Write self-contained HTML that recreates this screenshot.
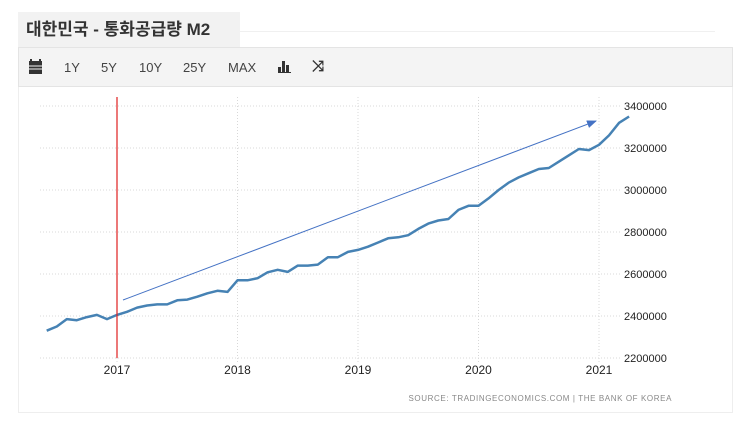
<!DOCTYPE html>
<html><head><meta charset="utf-8"><style>
body{margin:0;width:743px;height:425px;background:#fff;position:relative;overflow:hidden;font-family:"Liberation Sans","Noto Sans CJK KR",sans-serif}
#title{position:absolute;left:18px;top:12px;width:222px;height:35px;background:#f2f2f2;font-weight:bold;font-size:17px;color:#333;line-height:35px;padding-left:8px;box-sizing:border-box}
#topline{position:absolute;left:240px;top:31px;width:475px;height:1px;background:#f0f0f0}
#toolbar{position:absolute;left:18px;top:47px;width:715px;height:40px;background:#f4f4f4;border:1px solid #e4e4e4;box-sizing:border-box}
.tb{position:absolute;top:12px;font-size:13px;color:#444}
#panel{position:absolute;left:18px;top:87px;width:715px;height:326px;border:1px solid #eee;border-top:none;box-sizing:border-box}
svg{position:absolute;left:0;top:0}
</style></head><body>
<div id="title">대한민국 - 통화공급량 M2</div>
<div id="topline"></div>
<div id="toolbar">
<span class="tb" style="left:10px;top:11px"><svg width="13" height="15" style="position:static"><rect x="0" y="2" width="13" height="13" fill="#333"/><rect x="1" y="0" width="2" height="3" fill="#333"/><rect x="10" y="0" width="2" height="3" fill="#333"/><line x1="0" y1="7" x2="13" y2="7" stroke="#f4f4f4"/><line x1="0" y1="10" x2="13" y2="10" stroke="#f4f4f4"/></svg></span>
<span class="tb" style="left:45px">1Y</span>
<span class="tb" style="left:82px">5Y</span>
<span class="tb" style="left:120px">10Y</span>
<span class="tb" style="left:164px">25Y</span>
<span class="tb" style="left:209px">MAX</span>
<span class="tb" style="left:259px;top:13px"><svg width="13" height="12" style="position:static"><rect x="0" y="6" width="3" height="6" fill="#333"/><rect x="4" y="0" width="3" height="12" fill="#333"/><rect x="8" y="4" width="3" height="8" fill="#333"/><rect x="0" y="11" width="13" height="1" fill="#333"/></svg></span>
<span class="tb" style="left:293px;top:10px;font-weight:bold;font-size:15px;color:#333">⤨</span>
</div>
<div id="panel"></div>
<svg id="chart" width="743" height="425"></svg>
<script>
const years=[2017,2018,2019,2020,2021];
const yTicks=[2200000,2400000,2600000,2800000,3000000,3200000,3400000];
const startYear=2016,startMonth=6;
const values=[2330000,2350000,2385000,2380000,2395000,2405000,2385000,
2405000,2420000,2440000,2450000,2455000,2455000,2475000,2478000,2492000,2508000,2520000,2515000,
2570000,2570000,2580000,2608000,2620000,2610000,2640000,2640000,2645000,2680000,2680000,2705000,
2715000,2730000,2750000,2770000,2775000,2785000,2815000,2840000,2855000,2862000,2905000,2925000,
2925000,2960000,3000000,3035000,3060000,3080000,3100000,3105000,3135000,3165000,3195000,3190000,
3215000,3260000,3320000,3350000];
const X=t=>117+(t-2017)*120.5;
const Y=v=>358-(v-2200000)/1200000*252;
const svg=document.getElementById('chart');const NS='http://www.w3.org/2000/svg';
function mk(tag,attrs,txt){const e=document.createElementNS(NS,tag);for(const k in attrs)e.setAttribute(k,attrs[k]);if(txt!==undefined)e.textContent=txt;svg.appendChild(e);return e;}
yTicks.forEach(v=>{
const g=mk('line',{x1:40,x2:620,y1:Y(v),y2:Y(v),stroke:'#d8d8d8','stroke-dasharray':'1,2'});


const t=mk('text',{x:624,y:Y(v)+4,'font-size':'11','fill':'#222','font-family':'Liberation Sans, sans-serif'},v);


});
years.forEach(yr=>{
const g=mk('line',{x1:X(yr),x2:X(yr),y1:97,y2:362,stroke:'#d8d8d8','stroke-dasharray':'1,2'});


const t=mk('text',{x:X(yr),y:374,'font-size':'12','fill':'#222','text-anchor':'middle','font-family':'Liberation Sans, sans-serif'},yr);


});
const pts=values.map((v,i)=>{const t=startYear+(startMonth-1+i)/12;return X(t).toFixed(1)+','+Y(v).toFixed(1);});
const line=mk('polyline',{points:pts.join(' '),fill:'none',stroke:'#4682b4','stroke-width':'2.5','stroke-linejoin':'round'});


const red=mk('line',{x1:117,x2:117,y1:97,y2:358,stroke:'#e02020','stroke-width':'1.2'});


const defs=mk('defs',{});
defs.innerHTML='<marker id="ah" markerWidth="10" markerHeight="8" refX="9" refY="4" orient="auto" markerUnits="userSpaceOnUse"><path d="M0,0 L10,4 L0,8 z" fill="#4472c4"/></marker>';
const arr=mk('line',{x1:123,y1:300,x2:596,y2:121,stroke:'#4472c4','stroke-width':'1','marker-end':'url(#ah)'});


const src=mk('text',{x:672,y:401,'font-size':'8','fill':'#888','text-anchor':'end','letter-spacing':'0.6','font-family':'Liberation Sans, sans-serif'},'SOURCE: TRADINGECONOMICS.COM  |  THE BANK OF KOREA');


</script>
</body></html>
